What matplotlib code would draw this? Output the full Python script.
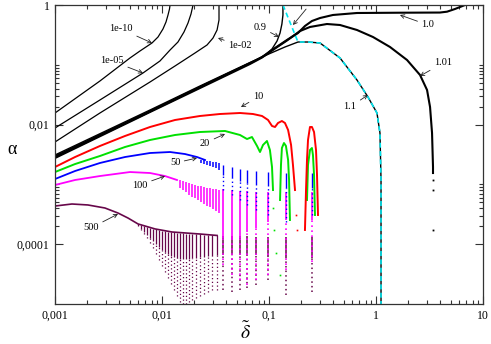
import numpy as np
import matplotlib
matplotlib.use("Agg")
import matplotlib.pyplot as plt
from matplotlib.ticker import FixedLocator, NullFormatter, LogLocator

plt.rcParams['font.family'] = ['Liberation Serif', 'DejaVu Serif']
plt.rcParams['mathtext.fontset'] = 'stix'

# ---- black curves (labels 1e-10, 1e-05, 1e-02, 0.9, 1.0, 1.01, 1.1) ----
c1e10_x = [0.001, 0.00263, 0.00502, 0.00622, 0.00806, 0.00918, 0.01021, 0.0109, 0.01138,
           0.01175, 0.01189]
c1e10_y = [0.01563, 0.0536, 0.130, 0.170, 0.2315, 0.2917, 0.397, 0.520, 0.681, 0.857, 1.0]
c1e05_x = [0.001, 0.00263, 0.00664, 0.00957, 0.01189, 0.0141, 0.01605, 0.0175, 0.01866, 0.0195]
c1e05_y = [0.00877, 0.0258, 0.0729, 0.1158, 0.1768, 0.2405, 0.3535, 0.500, 0.707, 1.0]
c1e02_x = [0.001, 0.00263, 0.00773, 0.01323, 0.02034, 0.02635, 0.02998, 0.0327, 0.0341, 0.0341]
c1e02_y = [0.00512, 0.01563, 0.0516, 0.0955, 0.1575, 0.2144, 0.2807, 0.382, 0.561, 1.0]

c09_x = [0.001, 0.00773, 0.02265, 0.0664, 0.0739, 0.0919, 0.1067, 0.1189, 0.1268, 0.132,
         0.135, 0.135]
c09_y = [0.002985, 0.0169, 0.0431, 0.1072, 0.1158, 0.1459, 0.1837, 0.250, 0.340, 0.481,
         0.681, 1.0]
c10_x = [0.001, 0.00773, 0.02265, 0.0664, 0.0861, 0.1138, 0.1472, 0.1866, 0.2168, 0.252,
         0.300, 0.396, 0.664, 1.675, 3.96, 4.61, 5.47, 6.10, 6.79]
c10_y = [0.00287, 0.0166, 0.0423, 0.1065, 0.135, 0.191, 0.260, 0.340, 0.4455, 0.540,
         0.606, 0.681, 0.735, 0.743, 0.748, 0.773, 0.857, 0.926, 1.0]
c101_x = [0.001, 0.00773, 0.02265, 0.0664, 0.0861, 0.1138, 0.1472, 0.195, 0.2415, 0.348,
          0.461, 0.664, 0.937, 1.352, 1.95, 2.58, 3.0, 3.20, 3.34, 3.41, 3.41]
c101_y = [0.002763, 0.01625, 0.0409, 0.1031, 0.1324, 0.1873, 0.255, 0.3673, 0.429, 0.481,
          0.463, 0.382, 0.2917, 0.1985, 0.1203, 0.0675, 0.0379, 0.01968, 0.00724, 0.001954,
          0.00155]
c101_tail_x = [3.41, 3.41, 3.41]
c101_tail_y = [0.0012, 0.0008, 0.000173]
c11_x = [0.001, 0.00773, 0.02265, 0.0664, 0.102, 0.141, 0.1866, 0.2315, 0.300, 0.461, 0.664,
         0.841, 1.021, 1.089, 1.114, 1.114]
c11_y = [0.003103, 0.01754, 0.0442, 0.1093, 0.1545, 0.1985, 0.2405, 0.2405, 0.2315, 0.130,
         0.0557, 0.0290, 0.01563, 0.00724, 0.001185, 1e-5]
cyan_x = [0.135, 0.1866, 0.2315, 0.300, 0.461, 0.664, 0.841, 1.021, 1.089, 1.114, 1.114]
cyan_y = [1.0, 0.2405, 0.2405, 0.2315, 0.130, 0.0557, 0.0290, 0.01563, 0.00724, 0.001185, 1e-5]

# ---- 10 (red) ----
red_x = [0.001, 0.00154, 0.00263, 0.00451, 0.00773, 0.01323, 0.02265, 0.0348, 0.0536, 0.0708,
         0.0861, 0.098, 0.1067, 0.1138, 0.1214, 0.132, 0.141, 0.1508, 0.1608, 0.1675, 0.175]
red_y = [0.001954, 0.00287, 0.00439, 0.00645, 0.00912, 0.01194, 0.01393, 0.01504, 0.01563,
         0.01504, 0.01393, 0.01194, 0.00948, 0.00912, 0.01064, 0.01148, 0.01064, 0.00813,
         0.00456, 0.00211, 0.000805]
red_tail_x = [0.1786, 0.1828]
red_tail_y = [0.000308, 0.000173]
red_arc_x = [0.2168, 0.2218, 0.2265, 0.2315, 0.2415, 0.252, 0.2636, 0.275, 0.281, 0.287]
red_arc_y = [0.000173, 0.000805, 0.00256, 0.00553, 0.00912, 0.00912, 0.00752, 0.00376,
             0.001436, 0.000308]

# ---- 20 (green) ----
green_x = [0.001, 0.00154, 0.00263, 0.00451, 0.00773, 0.01323, 0.02265, 0.0388, 0.0536,
           0.0623, 0.0693, 0.0773, 0.0824, 0.0879, 0.0957, 0.102, 0.1067, 0.109]
green_y = [0.00161, 0.00219, 0.002985, 0.00422, 0.00553, 0.0067, 0.00752, 0.00782, 0.0067,
           0.00574, 0.0062, 0.00439, 0.00348, 0.00456, 0.00532, 0.00376, 0.001954, 0.000805]
green_tail_x = [0.109, 0.1115, 0.116, 0.1268]
green_tail_y = [0.0004, 0.000173, 7e-5, 3e-5]
green_arc1_x = [0.1268, 0.1294, 0.132, 0.138, 0.144, 0.1508, 0.154, 0.157]
green_arc1_y = [0.000548, 0.00211, 0.00406, 0.00492, 0.00439, 0.00256, 0.001185, 0.000254]
green_arc2_x = [0.2265, 0.2315, 0.2415, 0.252, 0.2575, 0.2636, 0.269]
green_arc2_y = [0.000548, 0.00211, 0.00376, 0.00406, 0.0031, 0.001436, 0.000308]

# ---- 50 (blue) ----
blue_x = [0.001, 0.00154, 0.00263, 0.00451, 0.00773, 0.01189, 0.0164, 0.02123, 0.02523]
blue_y = [0.00123, 0.001675, 0.00228, 0.00287, 0.00335, 0.00348, 0.00322, 0.00287, 0.00256]
blue_teeth_x = [0.02315, 0.0247, 0.02635, 0.0281, 0.02998, 0.03198, 0.03411]
blue_teeth_top = [0.00256, 0.00256, 0.00246, 0.00246, 0.00237, 0.00237, 0.00228]
blue_teeth_bot = [0.00228, 0.00219, 0.00211, 0.00203, 0.001954, 0.00188, 0.00174]

# resonance columns shared by the oscillating families
col_x = [0.0372, 0.0451, 0.0536, 0.0623, 0.0756, 0.098, 0.144, 0.252]
blue_col_top = [0.00211, 0.001954, 0.00181, 0.00174, 0.001675, 0.00161, 0.00155, 0.00155]
blue_col_mid = [0.001436, 0.00128, 0.00114, 0.001055, 0.000977, 0.00094, 0.000871, 0.000871]
blue_col_bot = [0.000805, 0.000665, 0.000548, 0.000453, 0.000373, 0.000308, 0.000235, 0.000308]

# ---- 100 (magenta) ----
mag_x = [0.001, 0.00154, 0.00263, 0.00502, 0.00773, 0.01067, 0.01381]
mag_y = [0.000977, 0.001185, 0.00138, 0.00161, 0.00155, 0.00138, 0.001185]
mag_teeth_x = [0.01473, 0.01571, 0.01676, 0.01788, 0.01907, 0.02034, 0.0217, 0.02315,
               0.0247, 0.02635, 0.0281, 0.02998, 0.03198, 0.03411]
mag_teeth_top = [0.001185, 0.00114, 0.001097, 0.001055, 0.001015, 0.000977, 0.00094,
                 0.00094, 0.000905, 0.000871, 0.000871, 0.000838, 0.000838, 0.000805]
mag_teeth_bot = [0.000871, 0.000805, 0.000746, 0.000665, 0.000615, 0.000593, 0.000548,
                 0.000508, 0.00047, 0.000435, 0.000419, 0.000388, 0.000359, 0.000332]
mag_col_top = [0.000838, 0.000805, 0.000775, 0.000775, 0.000746, 0.000746, 0.000746, 0.000746]
mag_col_mid = [0.000127, 0.0001175, 0.000127, 0.00016, 0.000187, 0.000235, 0.000254, 0.000254]
mag_col_bot = [4.49e-5, 3.05e-5, 2.52e-5, 2.08e-5, 2.52e-5, 3.05e-5, 3.7e-5, 5.04e-5]

# ---- 500 (maroon) ----
pur_x = [0.001, 0.00144, 0.00203, 0.00293, 0.00388, 0.00481, 0.00597, 0.00861, 0.0124,
         0.02265, 0.0327]
pur_y = [4.35e-4, 4.70e-4, 4.53e-4, 4.03e-4, 3.32e-4, 2.74e-4, 2.18e-4, 1.80e-4, 1.60e-4,
         1.48e-4, 1.40e-4]
pur_fan_x = [0.0060, 0.00636, 0.00679, 0.00724, 0.00773, 0.00824, 0.00879, 0.00938, 0.0100,
             0.01067, 0.01138, 0.01214, 0.01295, 0.01381, 0.01473, 0.01571, 0.01676, 0.01788,
             0.01907, 0.0208, 0.02265, 0.0247, 0.0269, 0.0293, 0.0327]
pur_fan_top = [2.18e-4, 2.09e-4, 2.01e-4, 1.94e-4, 1.87e-4, 1.80e-4, 1.80e-4, 1.73e-4, 1.66e-4,
               1.66e-4, 1.60e-4, 1.60e-4, 1.60e-4, 1.54e-4, 1.54e-4, 1.54e-4, 1.48e-4, 1.48e-4,
               1.48e-4, 1.48e-4, 1.48e-4, 1.43e-4, 1.43e-4, 1.43e-4, 1.43e-4]
pur_fan_mid = [2.01e-4, 1.80e-4, 1.60e-4, 1.43e-4, 1.27e-4, 1.13e-4, 1.01e-4, 8.98e-5, 8.0e-5,
               7.41e-5, 6.86e-5, 6.35e-5, 6.11e-5, 5.88e-5, 5.66e-5, 5.66e-5, 5.66e-5, 5.66e-5,
               5.88e-5, 5.88e-5, 6.11e-5, 6.11e-5, 6.35e-5, 6.35e-5, 6.59e-5]
pur_fan_bot = [2.01e-4, 1.73e-4, 1.48e-4, 1.27e-4, 1.05e-4, 8.63e-5, 6.86e-5, 5.45e-5, 4.32e-5,
               3.43e-5, 2.72e-5, 2.16e-5, 1.71e-5, 1.36e-5, 1.08e-5, 1.0e-5, 1.0e-5, 1.08e-5,
               1.17e-5, 1.26e-5, 1.36e-5, 1.47e-5, 1.59e-5, 1.71e-5, 1.71e-5]
pur_col_top = [1.37e-4, 1.37e-4, 1.37e-4, 1.37e-4, 1.32e-4, 1.32e-4, 1.32e-4, 1.32e-4]
pur_col_mid = [6.59e-5, 6.59e-5, 6.59e-5, 6.59e-5, 6.59e-5, 6.35e-5, 5.88e-5, 5.88e-5]
pur_col_bot = [1.71e-5, 1.59e-5, 1.71e-5, 1.85e-5, 2.08e-5, 2.52e-5, 1.42e-5, 1.59e-5]

RED, GREEN, BLUE, MAG, MAROON, CYAN = '#ff0000', '#00e000', '#0000ff', '#ff00ff', '#67074a', '#00e5ee'

fig = plt.figure(figsize=(4.91, 3.44), dpi=100)
ax = fig.add_axes([55/491, 40/344, 428/491, 299/344])
ax.set_xscale('log')
ax.set_yscale('log')

sparse = (0, (1, 2))


def cloud(xs, top, mid, bot, color, lw=1.0):
    ax.vlines(xs, mid, top, colors=color, lw=lw)
    ax.vlines(xs, bot, mid, colors=color, lw=lw, linestyles=[sparse])


# maroon 500
ax.plot(pur_x, pur_y, color=MAROON, lw=1.2)
cloud(pur_fan_x, pur_fan_top, pur_fan_mid, pur_fan_bot, MAROON, lw=0.9)
cloud(col_x, pur_col_top, pur_col_mid, pur_col_bot, MAROON, lw=1.1)

# magenta 100
ax.plot(mag_x, mag_y, color=MAG, lw=1.3)
ax.vlines(mag_teeth_x, mag_teeth_bot, mag_teeth_top, colors=MAG, lw=1.1)
cloud(col_x, mag_col_top, mag_col_mid, mag_col_bot, MAG, lw=1.2)

# blue 50
ax.plot(blue_x, blue_y, color=BLUE, lw=1.3)
ax.vlines(blue_teeth_x, blue_teeth_bot, blue_teeth_top, colors=BLUE, lw=1.1)
cloud(col_x, blue_col_top, blue_col_mid, blue_col_bot, BLUE, lw=1.0)

# green 20
ax.plot(green_x, green_y, color=GREEN, lw=1.4)
ax.plot(green_arc1_x, green_arc1_y, color=GREEN, lw=1.4)
ax.plot(green_arc2_x, green_arc2_y, color=GREEN, lw=1.4)
ax.plot(green_tail_x, green_tail_y, 's', color=GREEN, ms=1.2, mew=0)

# red 10
ax.plot(red_x, red_y, color=RED, lw=1.4)
ax.plot(red_arc_x, red_arc_y, color=RED, lw=1.4)
ax.plot(red_tail_x, red_tail_y, 's', color=RED, ms=1.2, mew=0)

# black family
for xs, ys in [(c1e10_x, c1e10_y), (c1e05_x, c1e05_y), (c1e02_x, c1e02_y)]:
    ax.plot(xs, ys, color='k', lw=0.9)
ax.plot(c09_x, c09_y, color='k', lw=1.0)
ax.plot(c11_x, c11_y, color='k', lw=1.0)
ax.plot(c10_x, c10_y, color='k', lw=1.5)
ax.plot(c101_x, c101_y, color='k', lw=1.5)
ax.plot(c101_tail_x, c101_tail_y, 's', color='k', ms=1.3, mew=0)
ax.plot(cyan_x, cyan_y, color=CYAN, lw=1.2, ls=(0, (3, 2)))

# labels with arrows
notes = [
    ('1e-10', (0.00414, 0.397), (0.00806, 0.2315)),
    ('1e-05', (0.00341, 0.1158), (0.00664, 0.0729)),
    ('1e-02', (0.0536, 0.2063), (0.03336, 0.2807)),
    ('0.9', (0.0824, 0.4286), (0.124, 0.2917)),
    ('', (0.2265, 0.891), (0.1675, 0.463)),
    ('1.0', (3.06, 0.463), (1.675, 0.681)),
    ('1.01', (4.23, 0.1072), (2.58, 0.065)),
    ('1.1', (0.571, 0.0197), (0.841, 0.0313)),
    ('10', (0.0789, 0.029), (0.0547, 0.01968)),
    ('20', (0.02523, 0.00492), (0.0388, 0.00697)),
    ('50', (0.01323, 0.00228), (0.02123, 0.00276)),
    ('100', (0.00622, 0.000977), (0.01067, 0.00138)),
    ('500', (0.00217, 0.000187), (0.00388, 0.00032)),
]
for txt, xyt, xy in notes:
    ax.annotate(txt, xy=xy, xytext=xyt, ha='center', va='center', fontsize=7.5,
                arrowprops=dict(arrowstyle='->,head_length=0.35,head_width=0.18',
                                lw=0.6, color='#222222', shrinkA=1, shrinkB=0))

ax.set_xlim(1e-3, 10)
ax.set_ylim(1e-5, 1)

xt = [1e-3, 1e-2, 1e-1, 1, 10]
xt_labels = ['0,001', '0,01', '0,1', '1', '10']
yt = [1e-4, 1e-2, 1]
yt_labels = ['0,0001', '0,01', '1']
ax.xaxis.set_major_locator(FixedLocator(xt))
ax.set_xticklabels(xt_labels)
ax.xaxis.set_minor_locator(LogLocator(base=10, subs=np.arange(2, 10)))
ax.xaxis.set_minor_formatter(NullFormatter())
ax.yaxis.set_major_locator(FixedLocator(yt))
ax.set_yticklabels(yt_labels)
ax.yaxis.set_minor_locator(FixedLocator([k * 1e-4 for k in range(2, 11)] +
                                        [k * 1e-2 for k in range(2, 11)]))
ax.yaxis.set_minor_formatter(NullFormatter())

ax.tick_params(which='both', direction='in', top=True, right=True, labelsize=8.5,
               width=0.8, color='#333333')
ax.tick_params(which='major', length=6, pad=4)
ax.tick_params(which='minor', length=3)
for s in ax.spines.values():
    s.set_linewidth(0.9)
    s.set_color('#333333')

fig.text(245/491, 1 - 332/344, r'$\tilde{\delta}$', ha='center', va='center', fontsize=14)
fig.text(12/491, 1 - 150/344, 'α', ha='center', va='center', fontsize=13)

fig.savefig('out.png', dpi=100)
